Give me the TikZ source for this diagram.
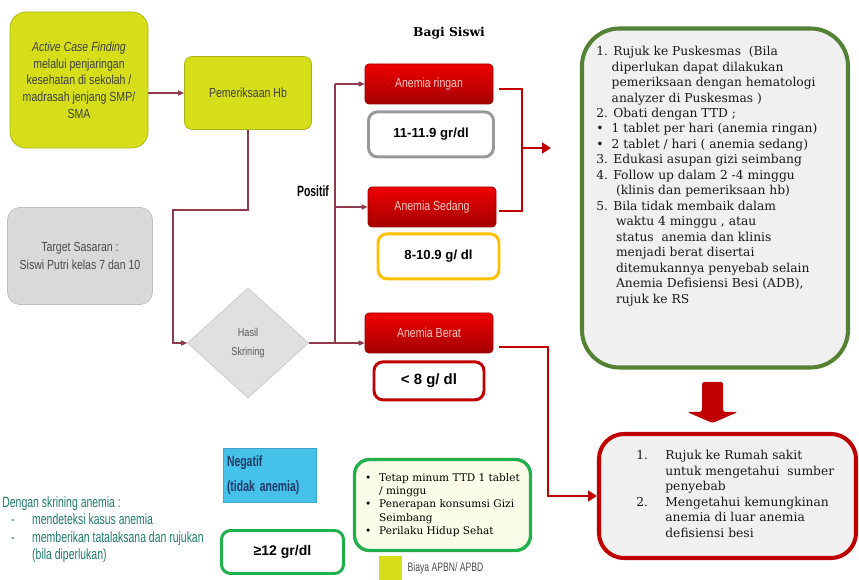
\documentclass[tikz,border=0pt]{standalone}
\usepackage{fontspec}
\setmainfont{DejaVu Serif}
\newfontfamily\condfont[FakeStretch=0.8]{Liberation Sans}
\newfontfamily\narrowfont[FakeStretch=0.7]{Liberation Sans}
\newfontfamily\arialfont{Liberation Sans}
\usepackage{tikz}
\usetikzlibrary{calc,positioning,shapes.geometric,arrows.meta}
\usepackage{xcolor}
\definecolor{yg}{HTML}{D6DE1A}
\definecolor{boxgray}{HTML}{D9D9D9}
\definecolor{flowred}{HTML}{8E3B4E}
\definecolor{rr}{HTML}{C00000}
\definecolor{pinktext}{HTML}{F6CACA}
\definecolor{valgray}{HTML}{999999}
\definecolor{orangeline}{HTML}{FFC000}
\definecolor{plangreen}{HTML}{548235}
\definecolor{planfill}{HTML}{F0F0F0}
\definecolor{okgreen}{HTML}{1FB04B}
\definecolor{cream}{HTML}{FCFDE8}
\definecolor{negblue}{HTML}{45C1EA}
\definecolor{navy}{HTML}{1F3A68}
\definecolor{tealtext}{HTML}{1E7B6C}
\newcommand{\pxu}{0.02cm}

\begin{document}
\begin{tikzpicture}[x=0.02cm,y=-0.02cm,
  box/.style={draw, inner sep=0pt, align=center, font=\condfont\fontsize{7.5}{9.5}\selectfont},
  ygbox/.style={box, fill=yg, draw=yg!80!black, text=black!75},
  graybox/.style={box, fill=boxgray, draw=black!25, text=black!70},
  skrbox/.style={box, diamond, fill=black!12, draw=black!22, text=black!65, minimum width=121*\pxu, minimum height=110*\pxu, font=\condfont\fontsize{6.5}{8}\selectfont},
  anbox/.style={box, draw=rr!80!black, top color=red!75!rr, bottom color=rr!85!black, text=pinktext, rounded corners=0.08cm, minimum width=128*\pxu, minimum height=40*\pxu},
  valbox/.style={draw, line width=1.7pt, fill=white, rounded corners=0.18cm, inner sep=0pt, font=\arialfont\bfseries\fontsize{7.5}{9}\selectfont},
  flow/.style={draw=flowred, line width=0.6pt, -{Triangle[length=3.5pt,width=3pt]}},
  bigred/.style={draw=rr, line width=1.7pt},
  bigtext/.style={inner sep=0pt, align=left, font=\fontsize{7}{8.8}\selectfont, text=black!90}]
\useasboundingbox (0,0) rectangle (859,580);

% left column
\node[ygbox, minimum width=138*\pxu, minimum height=136*\pxu, rounded corners=0.32cm] (acf) at (79,80) {\textit{Active Case Finding}\\melalui penjaringan\\kesehatan di sekolah /\\madrasah jenjang SMP/\\SMA};
\node[ygbox, minimum width=127*\pxu, minimum height=73*\pxu, rounded corners=0.15cm] (hb) at (248,93) {Pemeriksaan Hb};
\node[graybox, minimum width=145*\pxu, minimum height=97*\pxu, rounded corners=0.25cm, font=\condfont\fontsize{7.5}{10}\selectfont] (tgt) at (80,256) {Target Sasaran :\\Siswi Putri kelas 7 dan 10};
\node[skrbox] (skr) at (248,343) {Hasil\\[3pt]Skrining};

% anemia levels
\node[font=\bfseries\fontsize{7}{8}\selectfont] (bagi) at (449,33) {Bagi Siswi};
\node[font=\narrowfont\bfseries\fontsize{8.5}{9}\selectfont] (pos) at (313,191) {Positif};
\node[anbox] (ringan) at (429,84) {Anemia ringan};
\node[anbox] (sedang) at (432,207) {Anemia Sedang};
\node[anbox] (berat) at (429,333) {Anemia Berat};
\node[valbox, draw=valgray, minimum width=125*\pxu, minimum height=45*\pxu, below=0.12cm of ringan, xshift=0.04cm] (vringan) {11-11.9 gr/dl};
\node[valbox, draw=orangeline, minimum width=121*\pxu, minimum height=45*\pxu, below=0.1cm of sedang, xshift=0.13cm] (vsedang) {8-10.9 g/ dl};
\node[valbox, draw=rr, minimum width=110*\pxu, minimum height=38*\pxu, below=0.14cm of berat, font=\arialfont\bfseries\fontsize{8.5}{10}\selectfont] (vberat) {< 8 g/ dl};

% negatif
\node[box, fill=negblue, draw=negblue!85!black, minimum width=93*\pxu, minimum height=54*\pxu, text width=85*\pxu, align=left, text=navy, font=\narrowfont\bfseries\fontsize{8.5}{14}\selectfont] (neg) at (269.5,475) {Negatif\\(tidak anemia)};
\node[valbox, draw=okgreen, minimum width=122*\pxu, minimum height=43*\pxu, font=\arialfont\bfseries\fontsize{8}{9}\selectfont] (norm) at (282.5,552) {≥12 gr/dl};
\node[draw=okgreen, line width=1.9pt, fill=cream, rounded corners=0.3cm, minimum width=176*\pxu, minimum height=91*\pxu, inner sep=0pt, align=left, font=\fontsize{6}{7.6}\selectfont] (tips) at (442.5,505) {\makebox[0.28cm][l]{\textbullet}Tetap minum TTD 1 tablet\\\hspace*{0.28cm}/ minggu\\\makebox[0.28cm][l]{\textbullet}Penerapan konsumsi Gizi\\\hspace*{0.28cm}Seimbang\\\makebox[0.28cm][l]{\textbullet}Perilaku Hidup Sehat};
\node[fill=yg, minimum width=23*\pxu, minimum height=24*\pxu, inner sep=0pt] (leg) at (390.5,568) {};
\node[right=0.1cm of leg, inner sep=0pt, text=black!70, font=\narrowfont\fontsize{7}{8}\selectfont] (legtxt) {Biaya APBN/ APBD};

\node[anchor=north west, inner sep=0pt, align=left, text=tealtext, font=\narrowfont\fontsize{8.5}{10}\selectfont] (skrtxt) at (2,496) {Dengan skrining anemia :\\\hspace*{5pt}\makebox[12pt][l]{-}mendeteksi kasus anemia\\\hspace*{5pt}\makebox[12pt][l]{-}memberikan tatalaksana dan rujukan\\\hspace*{17pt}(bila diperlukan)};

% right boxes
\node[draw=plangreen, line width=2.3pt, fill=planfill, rounded corners=0.75cm, minimum width=266*\pxu, minimum height=339*\pxu] (plan) at (715,198) {};
\node[bigtext, anchor=north west] (plantxt) at (596,46) {1. Rujuk ke Puskesmas\ \ (Bila\\
\hspace*{1.25em}diperlukan dapat dilakukan\\
\hspace*{1.25em}pemeriksaan dengan hematologi\\
\hspace*{1.25em}analyzer di Puskesmas )\\
2. Obati dengan TTD ;\\
\makebox[1.25em][l]{\textbullet}1 tablet per hari (anemia ringan)\\
\makebox[1.25em][l]{\textbullet}2 tablet / hari ( anemia sedang)\\
3. Edukasi asupan gizi seimbang\\
4. Follow up dalam 2 -4 minggu\\
\hspace*{1.6em}(klinis dan pemeriksaan hb)\\
5. Bila tidak membaik dalam\\
\hspace*{1.6em}waktu 4 minggu , atau\\
\hspace*{1.6em}status\ \ anemia dan klinis\\
\hspace*{1.6em}menjadi berat disertai\\
\hspace*{1.6em}ditemukannya penyebab selain\\
\hspace*{1.6em}Anemia Defisiensi Besi (ADB),\\
\hspace*{1.6em}rujuk ke RS};
\node[draw=rr, line width=2.3pt, fill=planfill, rounded corners=0.5cm, minimum width=257*\pxu, minimum height=124*\pxu] (rs) at (727.5,496) {};
\node[bigtext, anchor=west] (rstxt) at (636,494) {\makebox[0.58cm][l]{1.}Rujuk ke Rumah sakit\\
\hspace*{0.58cm}untuk mengetahui\ \ sumber\\
\hspace*{0.58cm}penyebab\\
\makebox[0.58cm][l]{2.}Mengetahui kemungkinan\\
\hspace*{0.58cm}anemia di luar anemia\\
\hspace*{0.58cm}defisiensi besi};

% connectors
\coordinate (jog) at (173,210);
\coordinate (br) at (335,210);
\draw[flow] (acf.east |- hb.west) -- (hb.west);
\draw[flow] (hb.south) |- (jog) |- (skr.west);
\draw[flow] (skr.east) -- (skr.east -| berat.west);
\draw[draw=flowred, line width=0.6pt] (skr.east -| br) -- (br |- ringan.west);
\draw[flow] (br |- ringan.west) -- (ringan.west);
\draw[flow] (br |- sedang.west) -- (sedang.west);

\coordinate (brk) at (522,148);
\coordinate (toplan) at (551,148);
\draw[bigred] ([xshift=6*\pxu,yshift=-5*\pxu]ringan.east) -| (brk) |- ([xshift=3*\pxu,yshift=-4*\pxu]sedang.east);
\draw[bigred, -{Triangle[length=5pt,width=6pt]}] (brk) -- (toplan);
\coordinate (drop) at (548,400);
\draw[bigred, -{Triangle[length=5pt,width=6pt]}] ([xshift=6*\pxu,yshift=-14*\pxu]berat.east) -| (drop |- rs.west) -- (rs.west);

% big arrow down
\fill[rr, rounded corners=1pt] (702,382) -- (723,382) -- (723,412) -- (738,412) -- (712.5,423) -- (687,412) -- (702,412) -- cycle;
\end{tikzpicture}
\end{document}
